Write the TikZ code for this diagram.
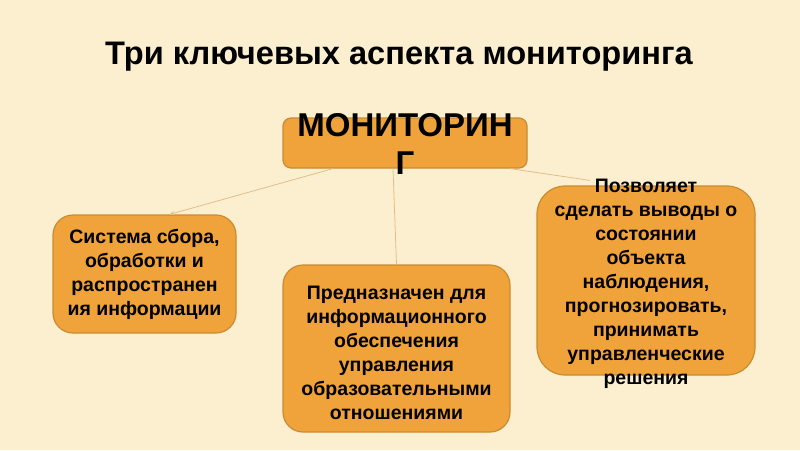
\documentclass[tikz,border=0pt]{standalone}
\usepackage{fontspec}
\setmainfont{Liberation Sans}
\usetikzlibrary{arrows.meta,positioning,calc}
\definecolor{paper}{HTML}{FCEFD0}
\definecolor{boxfill}{HTML}{EFA33A}
\definecolor{boxline}{HTML}{C98B32}
\definecolor{linktan}{HTML}{E2BE88}
\tikzset{
  aspbox/.style={draw=boxline,fill=boxfill,line width=1.2pt,rounded corners=20pt,inner sep=0pt},
  asptext/.style={align=center,font=\fontsize{19.5}{24}\selectfont\bfseries,inner sep=0pt},
  asplink/.style={line width=0.8pt,draw=linktan},
  asparr/.style={-{Stealth[length=5pt,width=4pt]},line width=0.8pt,draw=linktan}
}
\begin{document}
\begin{tikzpicture}[x=1pt,y=-1pt]
  \fill[paper] (0,0) rectangle (800,450);
  \useasboundingbox (0,0) rectangle (800,450);
  \node[font=\fontsize{32.6}{38}\selectfont\bfseries] (title) at (399,57) {Три ключевых аспекта мониторинга};
  % main box and its overflowing label
  \node[aspbox,rounded corners=8pt,minimum width=244pt,minimum height=50pt] (top) at (405,143) {};
  \node[align=center,font=\fontsize{33}{38}\selectfont\bfseries,inner sep=0pt] (toptxt) at ([yshift=-1pt]top.center) {МОНИТОРИН\\Г};
  % three aspects
  \node[aspbox,minimum width=183pt,minimum height=118pt] (lbox) at (144.5,274) {};
  \node[asptext] (ltxt) at (lbox.center) {Система сбора,\\обработки и\\распространен\\ия информации};
  \node[aspbox,minimum width=227pt,minimum height=167pt] (mbox) at (396.5,348.5) {};
  \node[asptext] (mtxt) at ([yshift=-4pt]mbox.center) {Предназначен для\\информационного\\обеспечения\\управления\\образовательными\\отношениями};
  \node[aspbox,rounded corners=28pt,minimum width=218pt,minimum height=189pt] (rbox) at (646,280.5) {};
  \node[asptext] (rtxt) at ([yshift=-3.5pt]rbox.center) {Позволяет\\сделать выводы о\\состоянии\\объекта\\наблюдения,\\прогнозировать,\\принимать\\управленческие\\решения};
  \draw[asparr] ([xshift=-72pt]top.south) -- ([xshift=25pt]lbox.north);
  \draw[asplink] ([xshift=-12pt]top.south) -- (mbox.north);
  \draw[asplink] ([xshift=105pt]top.south) -- ([xshift=-56pt,yshift=5pt]rbox.north);
\end{tikzpicture}
\end{document}
